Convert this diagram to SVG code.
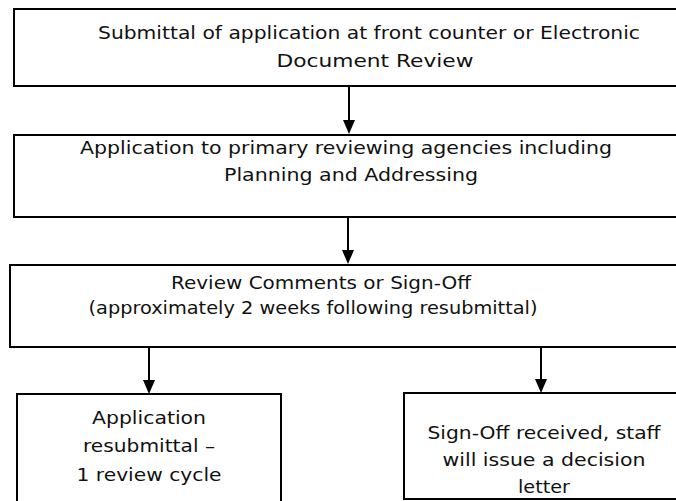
<svg xmlns="http://www.w3.org/2000/svg" width="676" height="501" viewBox="0 0 676 501">
<style>
.box{fill:#fff;stroke:#000;stroke-width:2}
.t{font-family:"DejaVu Sans","Liberation Sans",sans-serif;font-size:17px;fill:#111;text-anchor:middle}
.c{stroke:#000;stroke-width:2;fill:none;marker-end:url(#ah)}
</style>
<defs>
<marker id="ah" markerUnits="userSpaceOnUse" markerWidth="14" markerHeight="12" refX="6" refY="6" orient="auto">
<path d="M0,0 L14,6 L0,12 z" fill="#000"/>
</marker>
</defs>
<rect width="676" height="501" fill="#fff"/>
<g id="n1">
<rect class="box" x="14" y="9" width="680" height="77"/>
<text class="t" x="369" y="39" textLength="542" lengthAdjust="spacingAndGlyphs">Submittal of application at front counter or Electronic</text>
<text class="t" x="375" y="67" textLength="197" lengthAdjust="spacingAndGlyphs">Document Review</text>
</g>
<g id="n2">
<rect class="box" x="14" y="135" width="680" height="82"/>
<text class="t" x="346" y="154" textLength="532" lengthAdjust="spacingAndGlyphs">Application to primary reviewing agencies including</text>
<text class="t" x="351" y="181" textLength="254" lengthAdjust="spacingAndGlyphs">Planning and Addressing</text>
</g>
<g id="n3">
<rect class="box" x="10" y="265" width="684" height="82"/>
<text class="t" x="321" y="289" textLength="300" lengthAdjust="spacingAndGlyphs">Review Comments or Sign-Off</text>
<text class="t" x="313" y="314" textLength="449" lengthAdjust="spacingAndGlyphs">(approximately 2 weeks following resubmittal)</text>
</g>
<g id="n4">
<rect class="box" x="17" y="394" width="264" height="120"/>
<text class="t" x="149" y="424" textLength="114" lengthAdjust="spacingAndGlyphs">Application</text>
<text class="t" x="149" y="452" textLength="132" lengthAdjust="spacingAndGlyphs">resubmittal –</text>
<text class="t" x="149" y="481" textLength="145" lengthAdjust="spacingAndGlyphs">1 review cycle</text>
</g>
<g id="n5">
<rect class="box" x="404" y="393" width="290" height="106"/>
<text class="t" x="544" y="439" textLength="233" lengthAdjust="spacingAndGlyphs">Sign-Off received, staff</text>
<text class="t" x="544" y="466" textLength="203" lengthAdjust="spacingAndGlyphs">will issue a decision</text>
<text class="t" x="544" y="493" textLength="52" lengthAdjust="spacingAndGlyphs">letter</text>
</g>
<g id="connectors">
<path class="c" d="M349,86 L349,126"/>
<path class="c" d="M348,217 L348,256"/>
<path class="c" d="M149,347 L149,386"/>
<path class="c" d="M541,347 L541,385"/>
</g>
</svg>
